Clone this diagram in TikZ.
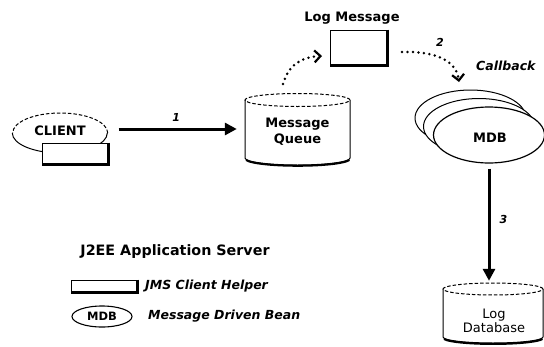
\documentclass[tikz,border=0pt]{standalone}
\usepackage{fontspec}
\setmainfont{DejaVu Sans}
\usetikzlibrary{arrows.meta,shapes.geometric}
\tikzset{
  lbl/.style={font=\fontsize{13}{15}\selectfont\bfseries, inner sep=0pt, align=center},
  lblreg/.style={font=\fontsize{13}{15}\selectfont, inner sep=0pt, align=center},
  lblit/.style={font=\fontsize{12.5}{15}\selectfont\bfseries\itshape, inner sep=0pt},
  numlbl/.style={font=\fontsize{11}{13}\selectfont\bfseries\itshape, inner sep=0pt},
  outline/.style={line width=1pt},
  topdash/.style={line width=1pt, dash pattern=on 3.5pt off 2pt},
  sbox/.style={draw, line width=0.9pt, fill=white, inner sep=0pt},
  sedge/.style={line width=2.2pt},
  bigarrow/.style={line width=3pt, -{Triangle[length=12pt,width=12pt]}},
  dotarrow/.style={line width=2.8pt, line cap=round, dash pattern=on 0pt off 5.5pt,
    -{Straight Barb[length=6pt,width=12pt,line width=2.2pt]}},
}
\begin{document}
\begin{tikzpicture}[x=1pt,y=-1pt]
\useasboundingbox[fill=white] (0,0) rectangle (544,346);

% ---------- CLIENT ----------
\node[ellipse, inner sep=0pt, minimum width=95pt, minimum height=40pt] (client) at (60,133) {};
\draw[topdash] (client.east) arc[start angle=0,end angle=180,x radius=47.5pt,y radius=20pt];
\draw[outline] (client.west) arc[start angle=180,end angle=360,x radius=47.5pt,y radius=20pt];
\node[lbl] (clienttext) at (60,131) {CLIENT};
\node[sbox, minimum width=66pt, minimum height=21pt] (helper) at (75,153.5) {};
\draw[sedge] (helper.north east) -- (helper.south east) -- (helper.south west);

% ---------- Message Queue ----------
\node[inner sep=0pt, minimum width=105pt, minimum height=72pt] (mq) at (297.5,129) {};
\draw[outline] (245,100) -- (245,158)
  arc[start angle=180,end angle=360,x radius=52.5pt,y radius=7pt] -- (350,100);
\draw[line width=2pt] (246,160) arc[start angle=190,end angle=350,x radius=52.5pt,y radius=7pt];
\draw[topdash] (297.5,100) ellipse[x radius=52.5pt, y radius=6.5pt];
\node[lbl] (mqtext) at (297.5,132) {Message\\[1pt]Queue};

% arrow 1
\draw[bigarrow, shorten <=11pt, shorten >=8pt] (client.east |- mq.west) -- (mq.west)
  node[numlbl, pos=0.5, above=6pt] (n1) {1};

% ---------- Log Message ----------
\node[lbl] (logmsglbl) at (352,18) {Log Message};
\node[sbox, minimum width=57pt, minimum height=35pt] (logmsg) at (358.5,47.5) {};
\draw[sedge] (logmsg.north east) -- (logmsg.south east) -- (logmsg.south west);

\coordinate (d1s) at (283,84);
\coordinate (d1e) at (322,56);
\draw[dotarrow] (d1s) .. controls (289,64) and (302,57) .. (d1e);

\coordinate (d2s) at (402,52);
\coordinate (d2e) at (459,82);
\draw[dotarrow] (d2s) .. controls (430,51) and (456,58) .. (d2e);
\node[numlbl] (n2) at (440,42) {2};
\node[lblit, anchor=west] (callback) at (476,66) {Callback};

% ---------- MDB ----------
\draw[outline, fill=white] (470.5,118) ellipse[x radius=55.5pt, y radius=28pt];
\draw[outline, fill=white] (479,126.5) ellipse[x radius=55.5pt, y radius=28pt];
\node[ellipse, draw, line width=1.2pt, fill=white, inner sep=0pt,
  minimum width=111pt, minimum height=56pt] (mdb) at (489,135) {};
\node[lbl] (mdbtext) at (490,138) {MDB};

% ---------- Log Database ----------
\node[inner sep=0pt, minimum width=100pt, minimum height=60pt] (logdb) at (493,313) {};
\draw[outline] (443,289) -- (443,337)
  arc[start angle=180,end angle=360,x radius=50pt,y radius=6pt] -- (543,289);
\draw[line width=2pt] (444,339) arc[start angle=190,end angle=350,x radius=50pt,y radius=6pt];
\draw[topdash] (493,289) ellipse[x radius=50pt, y radius=6pt];
\node[lblreg] (logdbtext) at (494,321) {Log\\[-1pt]Database};

% arrow 3
\draw[bigarrow, shorten <=5pt, shorten >=2pt] (mdb.south) -- (mdb.south |- logdb.north)
  node[numlbl, pos=0.47, right=9pt] (n3) {3};

% ---------- Legend ----------
\node[lbl, font=\fontsize{14.3}{16}\selectfont\bfseries] (server) at (175,252) {J2EE Application Server};
\node[sbox, minimum width=66pt, minimum height=12pt] (legbox) at (104,286) {};
\draw[sedge] (legbox.north east) -- (legbox.south east) -- (legbox.south west);
\node[lblit, anchor=west] (legboxtext) at (145,286) {JMS Client Helper};
\node[ellipse, draw, line width=1.1pt, inner sep=0pt, minimum width=60pt, minimum height=21pt,
  font=\fontsize{11.5}{13}\selectfont\bfseries] (legell) at (102,316.5) {MDB};
\node[lblit, anchor=west] (legelltext) at (148,316) {Message Driven Bean};
\end{tikzpicture}
\end{document}
